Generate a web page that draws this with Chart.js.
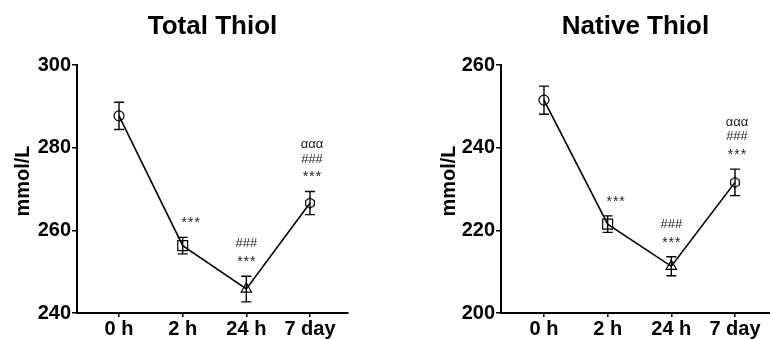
<!DOCTYPE html>
<html>
<head>
<meta charset="utf-8">
<script src="https://cdn.jsdelivr.net/npm/chart.js@4"></script>
<style>
  html, body { margin: 0; padding: 0; background: #fff; overflow: hidden; }
  #wrap { position: relative; width: 770px; height: 339px; overflow: hidden; }
  canvas { position: absolute; top: 0; }
  #totalChart { left: 0; }
  #nativeChart { left: 385px; }
</style>
</head>
<body>
<div id="wrap">
  <canvas id="totalChart" width="385" height="339"></canvas>
  <canvas id="nativeChart" width="400" height="339"></canvas>
</div>
<script>
// Time points and measured thiol levels (mean ± SEM, mmol/L)
const categories = ['0 h', '2 h', '24 h', '7 day'];
const totalThiolMean = [287.7, 256.3, 245.8, 266.6];
const totalThiolSem  = [3.3, 2.0, 3.1, 2.8];
const nativeThiolMean = [251.5, 221.5, 211.3, 231.6];
const nativeThiolSem  = [3.4, 2.0, 2.3, 3.2];
// Significance marks stacked above each time point (bottom line last)
const significance = [[], ['***'], ['###', '***'], ['ααα', '###', '***']];
const totalTicks = [240, 260, 280, 300];
const nativeTicks = [200, 220, 240, 260];

const FONT = "'Liberation Sans', Arial, Helvetica, sans-serif";

// Open hexagon used as the marker for the last time point
function hexagonMarker(r) {
  const size = Math.ceil(r * 2 + 4);
  const c = document.createElement('canvas');
  c.width = size; c.height = size;
  const g = c.getContext('2d');
  g.strokeStyle = '#000';
  g.lineWidth = 1.2;
  g.beginPath();
  for (let k = 0; k < 6; k++) {
    const a = Math.PI / 6 + k * Math.PI / 3;
    const px = size / 2 + r * Math.cos(a);
    const py = size / 2 + r * Math.sin(a);
    if (k === 0) g.moveTo(px, py); else g.lineTo(px, py);
  }
  g.closePath();
  g.stroke();
  return c;
}

// Error bars and significance marks drawn from the data through the scales
const errorBarPlugin = {
  id: 'errorBars',
  afterDatasetsDraw(chart, args, opts) {
    const { ctx, scales: { x, y } } = chart;
    const means = opts.means, sems = opts.sems;
    ctx.save();
    ctx.strokeStyle = '#000';
    ctx.lineWidth = 1.4;
    means.forEach((m, i) => {
      const px = x.getPixelForValue(i);
      const top = y.getPixelForValue(m + sems[i]);
      const bot = y.getPixelForValue(m - sems[i]);
      ctx.beginPath();
      ctx.moveTo(px, top); ctx.lineTo(px, bot);
      ctx.moveTo(px - opts.cap, top); ctx.lineTo(px + opts.cap, top);
      ctx.moveTo(px - opts.cap, bot); ctx.lineTo(px + opts.cap, bot);
      ctx.stroke();
      // stacked significance text above the upper whisker
      const lines = significance[i];
      ctx.fillStyle = '#222';
      ctx.textAlign = 'center';
      ctx.textBaseline = 'middle';
      const n = lines.length;
      lines.forEach((t, k) => {
        const isStar = t.indexOf('*') >= 0;
        // asterisks sit high in the em box, so they are lowered a little
        const ty = top - opts.gap - (n - 1 - k) * opts.lineStep + (isStar ? 4 : 0);
        ctx.font = (isStar ? '14px ' : '13px ') + FONT;
        ctx.letterSpacing = isStar ? '1px' : '0px';
        ctx.fillText(t, px + opts.shiftX[i] + (isStar ? 0.5 : 0), ty);
      });
      ctx.letterSpacing = '0px';
    });
    ctx.restore();
  }
};

// Rotated y-axis caption
const yCaptionPlugin = {
  id: 'yCaption',
  afterDraw(chart, args, opts) {
    const { ctx } = chart;
    ctx.save();
    ctx.translate(opts.x, opts.y);
    ctx.rotate(-Math.PI / 2);
    ctx.fillStyle = '#000';
    ctx.font = 'bold 20px ' + FONT;
    ctx.textAlign = 'center';
    ctx.textBaseline = 'middle';
    ctx.fillText(opts.text, 0, 0);
    ctx.restore();
  }
};

function buildChart(id, title, means, sems, ticks, geo) {
  const axisFont = { family: FONT, size: 20, weight: 'bold' };
  return new Chart(document.getElementById(id), {
    type: 'line',
    data: {
      datasets: [{
        data: means.map((v, i) => ({ x: i, y: v })),
        borderColor: '#000',
        borderWidth: 1.6,
        tension: 0,
        fill: false,
        pointStyle: ['circle', 'rect', 'triangle', hexagonMarker(5)],
        pointRadius: [5, 7, 6, 5],
        pointBorderColor: '#000',
        pointBackgroundColor: 'rgba(0,0,0,0)',
        pointBorderWidth: 1.2
      }]
    },
    options: {
      responsive: false,
      animation: false,
      layout: { padding: { left: 0, right: geo.padRight, top: 0, bottom: 0 } },
      plugins: {
        legend: { display: false },
        tooltip: { enabled: false },
        title: {
          display: true,
          text: title,
          fullSize: false,
          color: '#000',
          font: { family: FONT, size: 26, weight: 'bold', lineHeight: 1.2 },
          padding: { top: 11, bottom: 22.8 }
        },
        errorBars: { means, sems, cap: 5, gap: 18, lineStep: 14.5, shiftX: [0, 8, 0, 2] },
        yCaption: { text: 'mmol/L', x: geo.captionX, y: 181 }
      },
      scales: {
        x: {
          type: 'linear',
          min: geo.xMin,
          max: geo.xMax,
          afterBuildTicks: s => { s.ticks = categories.map((_, i) => ({ value: i })); },
          afterFit: s => { s.height = 26; },
          ticks: {
            callback: v => categories[v],
            color: '#000',
            font: axisFont,
            padding: 0,
            maxRotation: 0,
            autoSkip: false
          },
          grid: { display: true, drawOnChartArea: false, drawTicks: true, tickLength: 4, color: '#000', lineWidth: 1.5 },
          border: { display: true, color: '#000', width: 2 }
        },
        y: {
          min: ticks[0],
          max: ticks[ticks.length - 1],
          afterBuildTicks: s => { s.ticks = ticks.map(v => ({ value: v })); },
          afterFit: s => { s.width = geo.yWidth; },
          ticks: { color: '#000', font: axisFont, padding: 1 },
          grid: { display: true, drawOnChartArea: false, drawTicks: true, tickLength: 5, color: '#000', lineWidth: 1.5 },
          border: { display: true, color: '#000', width: 2 }
        }
      }
    },
    plugins: [errorBarPlugin, yCaptionPlugin]
  });
}

buildChart('totalChart', 'Total Thiol', totalThiolMean, totalThiolSem, totalTicks,
  { padRight: 37, yWidth: 77, xMin: -0.66, xMax: 3.597, captionX: 23 });
// this canvas runs past the page edge so its axis meets the right border
buildChart('nativeChart', 'Native Thiol', nativeThiolMean, nativeThiolSem, nativeTicks,
  { padRight: 15, yWidth: 116, xMin: -0.675, xMax: 3.55, captionX: 64 });
</script>
</body>
</html>
